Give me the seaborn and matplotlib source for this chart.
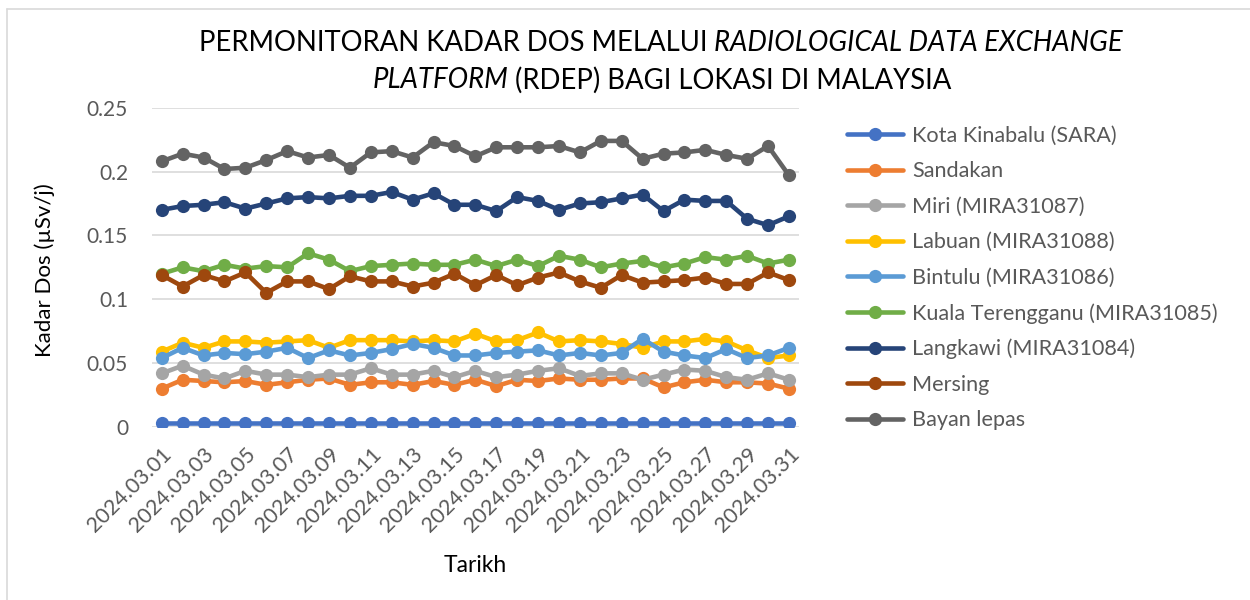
import matplotlib
matplotlib.use("Agg")
import matplotlib.pyplot as plt
from matplotlib.lines import Line2D
import seaborn as sns
import pandas as pd
import numpy as np

# ---- data ----
tarikh = ["2024.03.%02d" % d for d in range(1, 32)]

kota_kinabalu = [0.003, 0.003, 0.003, 0.003, 0.003, 0.003, 0.003, 0.003, 0.003, 0.003,
                 0.003, 0.003, 0.003, 0.003, 0.003, 0.003, 0.003, 0.003, 0.003, 0.003,
                 0.003, 0.003, 0.003, 0.003, 0.003, 0.003, 0.003, 0.003, 0.003, 0.003, 0.003]
sandakan = [0.030, 0.037, 0.036, 0.035, 0.036, 0.033, 0.035, 0.037, 0.038, 0.033,
            0.035, 0.035, 0.033, 0.036, 0.033, 0.037, 0.032, 0.037, 0.036, 0.038,
            0.037, 0.037, 0.038, 0.038, 0.031, 0.035, 0.037, 0.035, 0.035, 0.034, 0.030]
miri = [0.042, 0.048, 0.041, 0.038, 0.044, 0.041, 0.041, 0.039, 0.041, 0.041,
        0.046, 0.041, 0.041, 0.044, 0.039, 0.044, 0.039, 0.041, 0.044, 0.046,
        0.040, 0.042, 0.042, 0.037, 0.041, 0.045, 0.044, 0.039, 0.037, 0.042, 0.037]
labuan = [0.059, 0.066, 0.062, 0.067, 0.067, 0.066, 0.067, 0.068, 0.062, 0.068,
          0.068, 0.068, 0.067, 0.068, 0.067, 0.073, 0.067, 0.068, 0.074, 0.067,
          0.068, 0.067, 0.065, 0.062, 0.067, 0.067, 0.069, 0.067, 0.060, 0.054, 0.056]
bintulu = [0.054, 0.062, 0.056, 0.058, 0.057, 0.059, 0.062, 0.054, 0.060, 0.056,
           0.058, 0.061, 0.065, 0.062, 0.056, 0.056, 0.058, 0.059, 0.060, 0.056,
           0.058, 0.056, 0.058, 0.069, 0.059, 0.056, 0.054, 0.061, 0.054, 0.056, 0.062]
kuala_terengganu = [0.120, 0.125, 0.122, 0.127, 0.124, 0.126, 0.125, 0.136, 0.131, 0.122,
                    0.126, 0.127, 0.128, 0.127, 0.127, 0.131, 0.126, 0.131, 0.126, 0.134,
                    0.131, 0.125, 0.128, 0.130, 0.125, 0.128, 0.133, 0.131, 0.134, 0.128, 0.131]
langkawi = [0.170, 0.173, 0.174, 0.176, 0.171, 0.175, 0.179, 0.180, 0.179, 0.181,
            0.181, 0.184, 0.178, 0.183, 0.174, 0.174, 0.169, 0.180, 0.177, 0.170,
            0.175, 0.176, 0.179, 0.182, 0.169, 0.178, 0.177, 0.177, 0.163, 0.158, 0.165]
mersing = [0.119, 0.110, 0.119, 0.114, 0.121, 0.105, 0.114, 0.114, 0.108, 0.118,
           0.114, 0.114, 0.110, 0.113, 0.120, 0.111, 0.119, 0.111, 0.117, 0.121,
           0.114, 0.109, 0.119, 0.113, 0.114, 0.115, 0.117, 0.112, 0.112, 0.121, 0.115]
bayan_lepas = [0.208, 0.214, 0.211, 0.202, 0.203, 0.209, 0.216, 0.211, 0.213, 0.203,
               0.215, 0.216, 0.211, 0.223, 0.220, 0.212, 0.219, 0.219, 0.219, 0.220,
               0.215, 0.224, 0.224, 0.210, 0.214, 0.215, 0.217, 0.213, 0.210, 0.220, 0.197]

lokasi = ["Kota Kinabalu (SARA)", "Sandakan", "Miri (MIRA31087)", "Labuan (MIRA31088)",
          "Bintulu (MIRA31086)", "Kuala Terengganu (MIRA31085)", "Langkawi (MIRA31084)",
          "Mersing", "Bayan lepas"]
series = [kota_kinabalu, sandakan, miri, labuan, bintulu, kuala_terengganu,
          langkawi, mersing, bayan_lepas]
warna = ["#4472C4", "#ED7D31", "#A5A5A5", "#FFC000", "#5B9BD5", "#70AD47",
         "#264478", "#9E480E", "#636363"]

rows = []
for name, vals in zip(lokasi, series):
    for i, v in enumerate(vals):
        rows.append({"idx": i, "Tarikh": tarikh[i], "Lokasi": name, "Dos": v})
df = pd.DataFrame(rows)

# ---- figure ----
sns.set_style("white")
plt.rcParams["font.family"] = ["Lato", "DejaVu Sans"]

W, H = 1250, 600
fig = plt.figure(figsize=(12.5, 6), dpi=100)
ax = fig.add_axes([151.7 / W, (H - 427) / H, (799 - 151.7) / W, (427 - 107.7) / H])

sns.lineplot(data=df, x="idx", y="Dos", hue="Lokasi", hue_order=lokasi,
             palette=warna, marker="o", markersize=9.5, markeredgewidth=0,
             linewidth=3.3, estimator=None, sort=False, legend=False, ax=ax)

ax.set_ylim(0, 0.25)
ax.set_xlim(-0.48, 30.48)
ax.set_yticks([0, 0.05, 0.1, 0.15, 0.2, 0.25])
ax.set_yticklabels(["0", "0.05", "0.1", "0.15", "0.2", "0.25"])
ax.set_xticks(range(0, 31, 2))
ax.set_xticklabels(tarikh[::2], rotation=45, ha="right", rotation_mode="anchor")
ax.tick_params(axis="y", length=0, pad=17, labelsize=15, labelcolor="#595959")
ax.tick_params(axis="x", length=0, pad=12, labelsize=15.5, labelcolor="#595959")
ax.yaxis.grid(True, color="#D9D9D9", linewidth=1.2)
ax.set_axisbelow(True)
for s in ax.spines.values():
    s.set_visible(False)

ax.set_xlabel("")
ax.set_ylabel("")
fig.text(475 / W, 1 - 566 / H, "Tarikh", ha="center", va="center", fontsize=16.5, color="black")
fig.text(45 / W, 1 - 270 / H, "Kadar Dos (µSv/j)", ha="center", va="center",
         rotation=90, fontsize=16, color="black")

# title with italic parts, laid out piece by piece
renderer = fig.canvas.get_renderer()


def mixed_line(parts, y_px, cx_px, size):
    texts = []
    for txt, style in parts:
        t = fig.text(0, 1 - y_px / H, txt, fontsize=size, style=style,
                     ha="left", va="center", color="black")
        texts.append(t)
    probe_a = fig.text(0, 0, "x x", fontsize=size)
    probe_b = fig.text(0, 0, "xx", fontsize=size)
    space = probe_a.get_window_extent(renderer).width - probe_b.get_window_extent(renderer).width
    probe_a.remove()
    probe_b.remove()
    widths = [t.get_window_extent(renderer).width for t in texts]
    total = sum(widths) + space * (len(texts) - 1)
    x = cx_px - total / 2
    for t, w in zip(texts, widths):
        t.set_x(x / W)
        x += w + space


title_size = 19.85
mixed_line([("PERMONITORAN KADAR DOS MELALUI", "normal"),
            ("RADIOLOGICAL DATA EXCHANGE", "italic")], 43, 661, title_size)
mixed_line([("PLATFORM", "italic"),
            ("(RDEP) BAGI LOKASI DI MALAYSIA", "normal")], 80, 662, title_size)

# legend
handles = [Line2D([0], [0], color=c, linewidth=3.3, marker="o", markersize=9.5,
                  markeredgewidth=0) for c in warna]
leg = fig.legend(handles, lokasi, loc="upper left", bbox_to_anchor=(847 / W, 1 - 126 / H),
                 frameon=False, fontsize=15.6, labelcolor="#595959", handlelength=2.58,
                 handletextpad=0.41, labelspacing=0.71, borderpad=0, borderaxespad=0)

# chart frame: only the top and left edges show in the reference crop
fig.add_artist(Line2D([7 / W, 1], [1 - 9 / H, 1 - 9 / H], transform=fig.transFigure,
                      color="#D9D9D9", linewidth=1.2))
fig.add_artist(Line2D([7 / W, 7 / W], [0, 1 - 9 / H], transform=fig.transFigure,
                      color="#D9D9D9", linewidth=1.2))

fig.savefig("out.png", dpi=100)
